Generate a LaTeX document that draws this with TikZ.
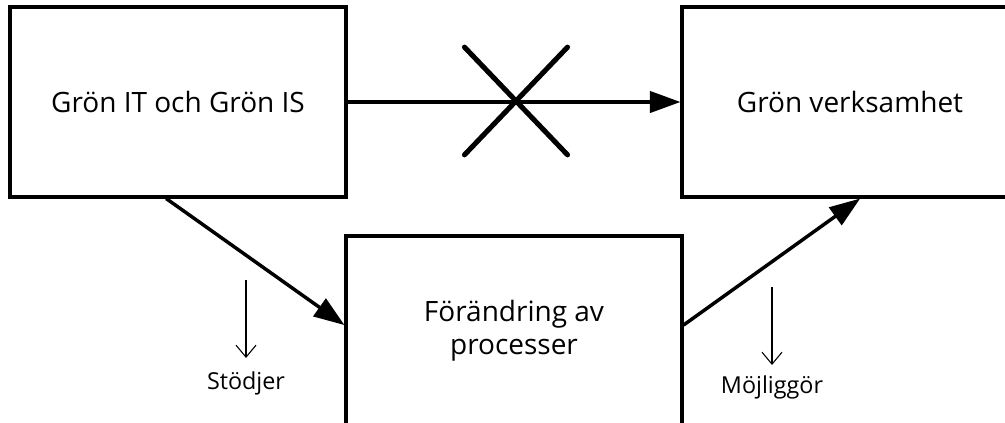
\documentclass[tikz,border=0pt]{standalone}
\usepackage{fontspec}
\setmainfont{Open Sans}
\usetikzlibrary{arrows.meta,shapes.misc,positioning}

\begin{document}
\begin{tikzpicture}[x=0.75pt,y=-0.75pt]
		\tikzset{box/.style = {draw, line width=2.3pt, minimum width=252pt, minimum height=142.5pt, align=center, font=\fontsize{21}{24.5}\selectfont}}
		\tikzset{edge/.style = {line width=2.6pt, -{Triangle[length=23pt,width=16pt]}}}
		\tikzset{hint/.style = {line width=0.8pt, -{Straight Barb[length=9pt,width=15pt]}}}
		\tikzset{tag/.style = {inner sep=0pt, font=\fontsize{17.5}{20}\selectfont}}
		\tikzset{nolink/.style = {draw, cross out, line width=3.8pt, line cap=round, inner sep=0pt, minimum width=73.5pt, minimum height=77pt}}
		
		\useasboundingbox (0,0) rectangle (1005,423);
		\clip (0,0) rectangle (1005,423);
		
		\node[box]  (it)   at ( 178,  102) {Grön IT och Grön IS};
		\node[box]  (biz)  at ( 850,  102) {Grön verksamhet};
		\node[box]  (proc) at ( 514,  331) {Förändring av\\processer};
		
		\draw[edge] (it) to  (biz);
		\draw[edge] (it.263) to  (proc.178);
		\draw[edge] (proc.2) to  (biz.276);
		
		\node[nolink] (x) at ( 516,  101) {};
		
		\coordinate (s1) at ( 246,  280);
		\coordinate (s2) at ( 246,  358);
		\coordinate (m1) at ( 772,  287);
		\coordinate (m2) at ( 772,  365);
		\node[tag, below=10pt of s2] (stod) {Stödjer};
		\node[tag, below=8pt of m2] (mojl) {Möjliggör};
		
		\draw[hint] (s1) to  (s2);
		\draw[hint] (m1) to  (m2);
		\end{tikzpicture}
\end{document}
